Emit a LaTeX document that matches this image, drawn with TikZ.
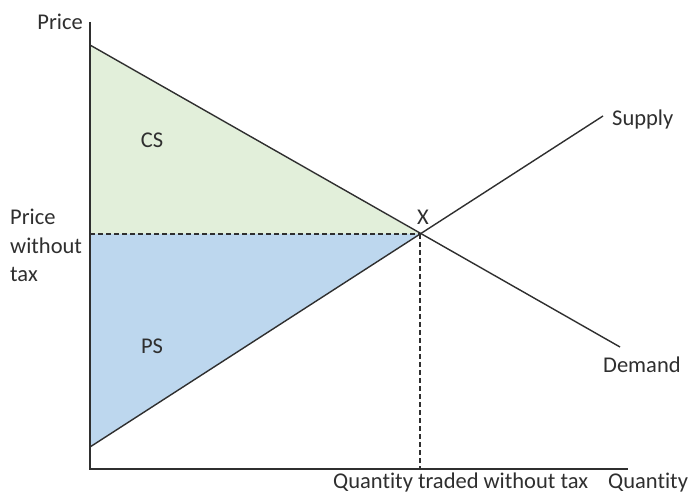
\documentclass[tikz,border=0pt]{standalone}
\usepackage{fontspec}
\setmainfont[Ligatures={NoCommon}]{Carlito}
\definecolor{csfill}{HTML}{E2EFDA}
\definecolor{psfill}{HTML}{BDD7EE}
\definecolor{linecol}{HTML}{2F2F2F}
\begin{document}
\begin{tikzpicture}[x=1pt,y=-1pt,
  lbl/.style={inner sep=0pt,font=\fontsize{22.5}{28.5}\selectfont,text=linecol},
  curve/.style={draw=linecol,line width=1.4pt},
  axis/.style={draw=linecol,line width=1.8pt},
  guide/.style={draw=linecol,line width=1.3pt,dash pattern=on 5pt off 3pt}]
\useasboundingbox (0,0) rectangle (699,494);
\fill[white] (0,0) rectangle (699,494);
% key points
\coordinate (O) at (90,469);
\coordinate (ytop) at (90,22);
\coordinate (xend) at (628,469);
\coordinate (dA) at (90,45);
\coordinate (dB) at (620,347);
\coordinate (sA) at (90,447);
\coordinate (sB) at (603,116);
\coordinate (E) at (420,234);
\coordinate (Ey) at (90,234);
\coordinate (Ex) at (420,469);
% areas
\fill[csfill] (dA) -- (E) -- (Ey) -- cycle;
\fill[psfill] (Ey) -- (E) -- (sA) -- cycle;
% guides
\draw[guide] (Ey) -- (E);
\draw[guide] (E) -- (Ex);
% curves
\draw[curve] (dA) -- (dB);
\draw[curve] (sA) -- (sB);
% axes
\draw[axis] (ytop) -- (O) -- (xend);
% labels
\node[lbl,anchor=base east] (lprice) at (83,30) {Price};
\node[lbl,anchor=base west,align=left] (lpwt) at (10,282) {Price\\without\\tax};
\node[lbl] (lcs) at (152,140) {CS};
\node[lbl] (lps) at (152,346) {PS};
\node[lbl] (lx) at (423,217) {X};
\node[lbl,anchor=base west] (lsup) at (612,126) {Supply};
\node[lbl,anchor=base west] (ldem) at (603,372) {Demand};
\node[lbl,anchor=base west] (lqt) at (333,488) {Quantity traded without tax};
\node[lbl,anchor=base west] (lq) at (608,488) {Quantity};
\end{tikzpicture}
\end{document}
